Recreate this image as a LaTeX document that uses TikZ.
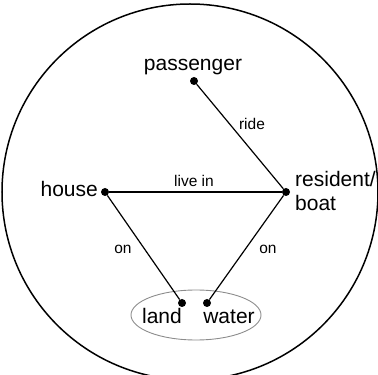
\documentclass[tikz,border=0pt]{standalone}
\usepackage{fontspec}
\setmainfont{Liberation Sans}
\usetikzlibrary{shapes.geometric}
\begin{document}
\begin{tikzpicture}[x=1pt,y=1pt,
  dot/.style={circle,fill=black,inner sep=0pt,minimum size=8pt},
  big/.style={inner sep=0pt,font=\fontsize{21}{24}\selectfont},
  small/.style={inner sep=0pt,font=\fontsize{15.5}{18}\selectfont},
  link/.style={line width=1.2pt}]
\useasboundingbox (0,0) rectangle (378,375);
\clip (0,0) rectangle (378,375);
\node[draw=black,line width=1.5pt,circle,minimum size=376pt,inner sep=0pt] (world) at (190,183) {};
\node[draw=black!45,line width=0.9pt,ellipse,minimum width=130pt,minimum height=50pt,inner sep=0pt] (set) at (196,60) {};
\node[dot] (P) at (194,294) {};
\node[dot] (H) at (105,183) {};
\node[dot] (R) at (286,183) {};
\node[dot] (L) at (182,72) {};
\node[dot] (W) at (207,72) {};
\draw[link] (P) -- (R);
\draw[link] (H) -- (R);
\draw[link] (H) -- (L);
\draw[link] (R) -- (W);
\node[big,anchor=base] (tp) at (193,304) {passenger};
\node[big,anchor=base east] (th) at (98,178) {house};
\node[big,anchor=base west] (tr) at (295,188) {resident/};
\node[big,anchor=base west] (tb) at (295,164) {boat};
\node[big,anchor=base] (tl) at (162,51) {land};
\node[big,anchor=base] (tw) at (229,51) {water};
\node[small,anchor=base] (lli) at (194,188) {live in};
\node[small,anchor=base] (lri) at (252,245) {ride};
\node[small,anchor=base] (lo1) at (123,121) {on};
\node[small,anchor=base] (lo2) at (268,121) {on};
\end{tikzpicture}
\end{document}
